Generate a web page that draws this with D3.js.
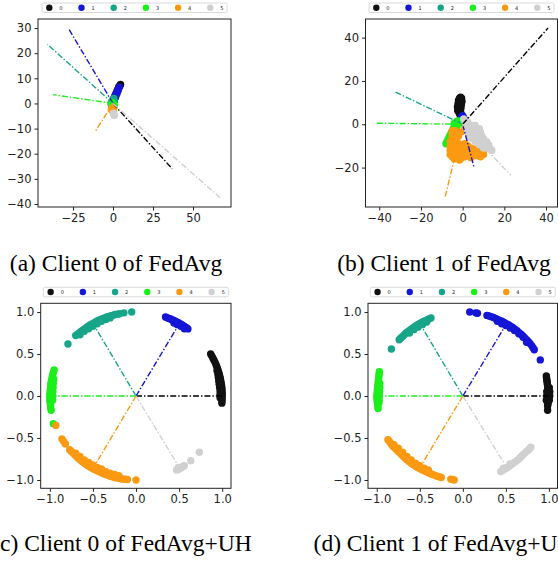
<!DOCTYPE html>
<html>
<head>
<meta charset="utf-8">
<script src="https://cdn.jsdelivr.net/npm/d3@7"></script>
<style>
  body { margin: 0; background: #fff; }
  svg { display: block; }
</style>
</head>
<body>
<svg id="chart" width="558" height="561"></svg>
<script>
// class labels and colours
const classes = ["0", "1", "2", "3", "4", "5"];
const colors = ["#111111", "#1515d6", "#17a589", "#1aef1a", "#fb9a12", "#d0d0d0"];

// ---- (a) Client 0 of FedAvg ----
const aTicksX = [-25, 0, 25, 50];
const aTicksY = [-40, -30, -20, -10, 0, 10, 20, 30];
const aCenters = [[37, -26], [-28, 30], [-41, 23.5], [-37.5, 3.5], [-11.5, -11.5], [67, -37.5]];
const aPoints = [
  [[0.5, 1], [1.5, 2.5], [2, 3.5], [2.5, 4.5], [3, 5.3], [3.5, 6], [4, 6.6], [4.5, 7.2], [4.7, 7.6], [3.8, 6.9]],
  [[-1, -0.5], [-0.5, 0.5], [0, 1.2], [0.5, 2], [1, 2.8], [1.5, 3.5], [2, 4.2], [2.5, 5], [3, 5.7], [3.5, 6.3], [3.9, 6.5], [0.5, 1], [1.5, 2.5], [2.5, 4], [3.2, 5.2]],
  [[0, 0.5], [0.3, 1.2], [0.5, 2], [0, 1.6], [-0.3, 0.8], [0.8, 1]],
  [[-1, -0.5], [-0.5, -1.5], [0, -2.3], [0.5, -1.5], [0.8, -0.5], [-1.3, 0.3], [0, -0.5], [-0.6, 0.4]],
  [[-0.5, -1.8], [0.3, -2.8], [-1, -2.5]],
  [[0.5, -4.3], [0.8, -4.8], [0.2, -3.9]]
];

// ---- (b) Client 1 of FedAvg ----
const bTicksX = [-40, -20, 0, 20, 40];
const bTicksY = [-20, 0, 20, 40];
const bCenters = [[41, 44.5], [5.5, -20], [-32.5, 15], [-42, 0.5], [-8.5, -34], [23, -23.5]];
const bPoints = [
  [[-1, 12.5], [-0.5, 12], [-1.5, 12], [-1, 11], [-2, 11], [-0.3, 10.5], [-1.2, 10], [-2.2, 9.5], [-0.6, 9], [-1.6, 8.5], [-2.5, 8], [-0.8, 7.5],
   [-1.8, 7], [-2.4, 6.3], [-1, 6], [-1.6, 5], [-0.6, 4.5], [-1, 3.5], [-0.2, 3], [0.2, 2]],
  [[0, 4], [0.5, 3], [1, 2], [0, 2.5], [-0.5, 3.5], [1, 0.5], [1.5, -1], [2, -3]],
  [[-2, 1.5], [-1.5, 0.5], [-2.5, 0.5], [-1, 1]],
  [[-3, 1], [-3.5, 0], [-4, -1], [-4.5, -2], [-5, -3], [-5.5, -4], [-6, -5], [-6.5, -6], [-7, -7], [-7.5, -8], [-8, -9], [-2.5, -0.5], [-4, 0.5],
   [-2.5, 1.5], [-3, -2], [-6, -7.5], [-7, -9]],
  [[-5, -3], [-5, -4.5], [-5, -6], [-5, -7.5], [-5, -9], [-5, -10.5], [-5, -12], [-5, -13.5], [-5, -15],
   [-3.5, -3], [-3.5, -4.5], [-3.5, -6], [-3.5, -7.5], [-3.5, -9], [-3.5, -10.5], [-3.5, -12], [-3.5, -13.5], [-3.5, -15],
   [-6, -8], [-6, -10], [-6, -12], [-6, -14],
   [-2, -4], [-2, -5.5], [-2, -9], [-2, -10.5], [-2, -12], [-2, -13.5], [-2, -15],
   [-0.5, -3.5], [-0.5, -9.5], [-0.5, -11], [-0.5, -12.5], [-0.5, -14], [-0.5, -15.5],
   [1, -9], [1, -10.5], [1, -12], [1, -13.5], [1, -15], [2.5, -10], [2.5, -11.5], [2.5, -13], [2.5, -14.5],
   [4, -11], [4, -12.5], [4, -14], [4, -15.5], [5.5, -11.5], [5.5, -13], [5.5, -14.5], [7, -11.5], [7, -13], [7, -14.5],
   [8.5, -12], [8.5, -13.5], [8.5, -15], [10, -12.5], [10, -14], [-4, -16], [-1.5, -16.5]],
  [[0.5, 2.5], [1, 1], [2.5, 1], [1.5, -0.5], [3, -0.5], [4.5, -0.5], [6, -0.5], [2, -2], [3.5, -2], [5, -2], [6.5, -2], [8, -2],
   [2.5, -3.5], [4, -3.5], [5.5, -3.5], [7, -3.5], [8.5, -3.5], [3, -5], [4.5, -5], [6, -5], [7.5, -5], [9, -5],
   [4, -6.5], [5.5, -6.5], [7, -6.5], [8.5, -6.5], [10, -6.5], [6, -8], [7.5, -8], [9, -8], [10.5, -8], [11.5, -8],
   [8, -9.5], [9.5, -9.5], [11, -9.5], [12.5, -9.5], [10, -11], [11.5, -11], [13, -11], [14, -12]]
];

// ---- (c) Client 0 of FedAvg+UH ----
const unitTicks = [-1.0, -0.5, 0.0, 0.5, 1.0];
const cCenters = [[1.0, 0], [0.49, 0.84], [-0.48, 0.83], [-1.0, 0], [-0.48, -0.83], [0.49, -0.83]];
const cPoints = [
  [[0.866, 0.5], [0.878, 0.478], [0.891, 0.454], [0.903, 0.43], [0.914, 0.407], [0.924, 0.383], [0.934, 0.358], [0.943, 0.334], [0.951, 0.309],
   [0.959, 0.284], [0.966, 0.259], [0.972, 0.233], [0.978, 0.208], [0.983, 0.182], [0.988, 0.156], [0.992, 0.13], [0.995, 0.105], [0.997, 0.078],
   [0.999, 0.052], [1.0, 0.026], [1.0, 0.0], [0.999, -0.03], [0.998, -0.06], [0.996, -0.085],
   [0.94, 0.3], [0.95, 0.26], [0.955, 0.22], [0.96, 0.18], [0.965, 0.14], [0.97, 0.1], [0.975, 0.06], [0.975, 0.02], [0.975, -0.02]],
  [[0.342, 0.94], [0.358, 0.934], [0.375, 0.927], [0.391, 0.92], [0.407, 0.914], [0.423, 0.906], [0.438, 0.899], [0.454, 0.891], [0.469, 0.883],
   [0.485, 0.875], [0.5, 0.866], [0.515, 0.857], [0.53, 0.848], [0.545, 0.839], [0.559, 0.829], [0.574, 0.819], [0.588, 0.809], [0.602, 0.799],
   [0.44, 0.87], [0.48, 0.85], [0.52, 0.83], [0.56, 0.8]],
  [[-0.05, 1.0], [-0.14, 0.99], [-0.19, 0.98], [-0.215, 0.975], [-0.24, 0.97], [-0.265, 0.963], [-0.29, 0.955], [-0.315, 0.948], [-0.34, 0.94],
   [-0.365, 0.93], [-0.39, 0.92], [-0.415, 0.91], [-0.44, 0.9], [-0.46, 0.888], [-0.48, 0.875], [-0.505, 0.862], [-0.53, 0.85], [-0.55, 0.835],
   [-0.57, 0.82], [-0.59, 0.805], [-0.61, 0.79], [-0.63, 0.775], [-0.65, 0.76], [-0.675, 0.74], [-0.7, 0.72], [-0.79, 0.62],
   [-0.3, 0.93], [-0.35, 0.91], [-0.4, 0.89], [-0.45, 0.86], [-0.5, 0.83], [-0.55, 0.8], [-0.6, 0.77], [-0.65, 0.73]],
  [[-0.95, 0.31], [-0.958, 0.285], [-0.965, 0.26], [-0.97, 0.235], [-0.975, 0.21], [-0.98, 0.185], [-0.985, 0.16], [-0.988, 0.135], [-0.99, 0.11],
   [-0.993, 0.085], [-0.995, 0.06], [-0.998, 0.035], [-1.0, 0.01], [-1.0, -0.015], [-1.0, -0.04], [-0.998, -0.065], [-0.995, -0.09],
   [-0.992, -0.115], [-0.99, -0.14], [-0.985, -0.17], [-0.96, -0.33],
   [-0.955, 0.2], [-0.96, 0.15], [-0.962, 0.1], [-0.965, 0.05], [-0.965, 0.0], [-0.968, -0.05]],
  [[-0.93, -0.35], [-0.86, -0.51], [-0.84, -0.54], [-0.82, -0.57], [-0.77, -0.64], [-0.75, -0.66], [-0.73, -0.68], [-0.71, -0.7], [-0.69, -0.72],
   [-0.67, -0.74], [-0.65, -0.76], [-0.625, -0.78], [-0.6, -0.8], [-0.575, -0.818], [-0.55, -0.835], [-0.525, -0.85], [-0.5, -0.865],
   [-0.475, -0.878], [-0.45, -0.89], [-0.425, -0.903], [-0.4, -0.915], [-0.375, -0.925], [-0.35, -0.935], [-0.325, -0.945], [-0.3, -0.955],
   [-0.275, -0.962], [-0.25, -0.97], [-0.225, -0.975], [-0.2, -0.98], [-0.175, -0.985], [-0.15, -0.99], [-0.125, -0.992], [-0.1, -0.995], [0.0, -1.0],
   [-0.7, -0.68], [-0.65, -0.72], [-0.6, -0.76], [-0.55, -0.79], [-0.5, -0.82], [-0.45, -0.85], [-0.4, -0.87], [-0.35, -0.9], [-0.3, -0.92],
   [-0.25, -0.935], [-0.2, -0.95]],
  [[0.47, -0.88], [0.485, -0.875], [0.5, -0.87], [0.515, -0.86], [0.53, -0.85], [0.545, -0.84], [0.56, -0.83], [0.49, -0.85], [0.635, -0.77], [0.735, -0.67]]
];

// ---- (d) Client 1 of FedAvg+UH ----
const dCenters = [[1.0, 0], [0.49, 0.83], [-0.48, 0.83], [-1.0, 0], [-0.48, -0.82], [0.49, -0.82]];
const dPoints = [
  [[0.97, 0.24], [0.972, 0.22], [0.975, 0.2], [0.978, 0.18], [0.98, 0.16], [0.983, 0.14], [0.985, 0.12], [0.988, 0.1], [0.99, 0.08], [0.993, 0.06],
   [0.995, 0.04], [0.995, 0.02], [0.995, 0.0], [0.995, -0.02], [0.995, -0.04], [0.993, -0.06], [0.99, -0.08], [0.988, -0.1], [0.985, -0.12],
   [0.985, -0.17], [1.005, 0.1], [1.01, 0.05], [1.01, 0.0], [1.005, -0.05], [0.975, 0.05], [0.975, 0.0], [0.97, -0.05]],
  [[0.08, 1.0], [0.15, 0.99], [0.17, 0.985], [0.28, 0.96], [0.305, 0.952], [0.33, 0.945], [0.355, 0.935], [0.38, 0.925], [0.405, 0.912], [0.43, 0.9],
   [0.455, 0.89], [0.48, 0.877], [0.505, 0.862], [0.53, 0.848], [0.555, 0.832], [0.58, 0.815], [0.605, 0.796], [0.63, 0.777], [0.655, 0.755],
   [0.68, 0.733], [0.7, 0.712], [0.72, 0.69], [0.74, 0.67], [0.76, 0.65], [0.78, 0.625], [0.8, 0.6], [0.815, 0.575], [0.83, 0.55], [0.9, 0.43],
   [0.4, 0.89], [0.45, 0.86], [0.5, 0.84], [0.55, 0.81], [0.6, 0.78], [0.65, 0.74], [0.7, 0.7], [0.74, 0.64]],
  [[-0.37, 0.93], [-0.39, 0.92], [-0.41, 0.91], [-0.43, 0.9], [-0.45, 0.89], [-0.475, 0.878], [-0.5, 0.865], [-0.52, 0.852], [-0.54, 0.84],
   [-0.56, 0.825], [-0.58, 0.81], [-0.6, 0.795], [-0.62, 0.78], [-0.64, 0.765], [-0.66, 0.75], [-0.68, 0.73], [-0.7, 0.71], [-0.72, 0.69],
   [-0.74, 0.67], [-0.83, 0.56], [-0.42, 0.88], [-0.47, 0.85], [-0.52, 0.82], [-0.57, 0.79], [-0.62, 0.75]],
  [[-0.97, 0.29], [-0.972, 0.265], [-0.975, 0.24], [-0.978, 0.215], [-0.98, 0.19], [-0.983, 0.165], [-0.985, 0.14], [-0.988, 0.115], [-0.99, 0.09],
   [-0.993, 0.065], [-0.995, 0.04], [-0.998, 0.015], [-1.0, -0.01], [-0.998, -0.035], [-0.995, -0.06], [-0.992, -0.08], [-0.99, -0.1],
   [-0.988, -0.125], [-0.985, -0.15], [-0.965, 0.15], [-0.965, 0.1], [-0.968, 0.05], [-0.97, 0.0], [-0.972, -0.05], [-0.975, -0.08]],
  [[-0.87, -0.52], [-0.855, -0.54], [-0.84, -0.56], [-0.825, -0.58], [-0.81, -0.6], [-0.79, -0.62], [-0.77, -0.64], [-0.75, -0.66], [-0.73, -0.68],
   [-0.71, -0.7], [-0.69, -0.72], [-0.67, -0.74], [-0.65, -0.76], [-0.625, -0.78], [-0.6, -0.8], [-0.575, -0.818], [-0.55, -0.835], [-0.525, -0.85],
   [-0.5, -0.865], [-0.475, -0.878], [-0.45, -0.89], [-0.425, -0.903], [-0.4, -0.915], [-0.375, -0.925], [-0.35, -0.935], [-0.325, -0.945],
   [-0.3, -0.955], [-0.275, -0.962], [-0.25, -0.97], [-0.14, -0.99], [-0.12, -0.995], [-0.1, -1.0],
   [-0.8, -0.58], [-0.75, -0.62], [-0.7, -0.67], [-0.65, -0.72], [-0.6, -0.76], [-0.55, -0.8], [-0.5, -0.83], [-0.45, -0.86], [-0.4, -0.88]],
  [[0.44, -0.9], [0.46, -0.888], [0.48, -0.875], [0.5, -0.862], [0.52, -0.85], [0.54, -0.835], [0.56, -0.82], [0.58, -0.805], [0.6, -0.79],
   [0.62, -0.775], [0.64, -0.76], [0.66, -0.74], [0.68, -0.72], [0.7, -0.7], [0.72, -0.68], [0.74, -0.66], [0.76, -0.645], [0.775, -0.628],
   [0.79, -0.61], [0.47, -0.86], [0.55, -0.81]]
];

const captions = ["(a) Client 0 of FedAvg", "(b) Client 1 of FedAvg", "(c) Client 0 of FedAvg+UH", "(d) Client 1 of FedAvg+UH"];

// frame boxes and axis ranges of the four panels
const panels = [
  { box: [38, 231, 19, 207], xd: [-46.9, 73.75], yd: [-41.2, 33.6], tx: aTicksX, ty: aTicksY, fmt: d3.format("d"), centers: aCenters, points: aPoints, cap: [116, 271] },
  { box: [365.5, 557.5, 19, 207], xd: [-46.6, 45.5], yd: [-38.2, 48.6], tx: bTicksX, ty: bTicksY, fmt: d3.format("d"), centers: bCenters, points: bPoints, cap: [444, 271] },
  { box: [40.7, 231, 303.3, 488.3], xd: [-1.106, 1.102], yd: [-1.099, 1.104], tx: unitTicks, ty: unitTicks, fmt: d3.format(".1f"), centers: cCenters, points: cPoints, cap: [122, 551] },
  { box: [368, 557.5, 303.3, 488.3], xd: [-1.102, 1.1], yd: [-1.099, 1.104], tx: unitTicks, ty: unitTicks, fmt: d3.format(".1f"), centers: dCenters, points: dPoints, cap: [444, 551] }
];

const svg = d3.select("#chart");
svg.append("rect").attr("width", 558).attr("height", 561).attr("fill", "#fff");

panels.forEach((p, k) => {
  const [l, r, t, b] = p.box;
  const x = d3.scaleLinear().domain(p.xd).range([l, r]);
  const y = d3.scaleLinear().domain(p.yd).range([b, t]);
  const g = svg.append("g");

  g.append("clipPath").attr("id", "clip" + k)
    .append("rect").attr("x", l).attr("y", t).attr("width", r - l).attr("height", b - t);
  const plot = g.append("g").attr("clip-path", `url(#clip${k})`);

  // scatter, class by class
  p.points.forEach((pts, i) => {
    plot.append("g").selectAll("circle")
      .data(pts)
      .join("circle")
      .attr("cx", d => x(d[0]))
      .attr("cy", d => y(d[1]))
      .attr("r", 3.7)
      .attr("fill", colors[i]);
  });

  // dash-dot lines from origin to each class centre
  plot.append("g").selectAll("line")
    .data(p.centers)
    .join("line")
    .attr("x1", x(0)).attr("y1", y(0))
    .attr("x2", d => x(d[0])).attr("y2", d => y(d[1]))
    .attr("stroke", (d, i) => i === 0 ? "#000" : colors[i])
    .attr("stroke-width", 1.4)
    .attr("stroke-dasharray", "6,2,1.4,2");

  const fmt = v => p.fmt(v).replace("-", "\u2212");

  const xAxis = g.append("g")
    .attr("transform", `translate(0,${b})`)
    .call(d3.axisBottom(x).tickValues(p.tx).tickSize(3.5).tickPadding(3).tickFormat(fmt));
  const yAxis = g.append("g")
    .attr("transform", `translate(${l},0)`)
    .call(d3.axisLeft(y).tickValues(p.ty).tickSize(3.5).tickPadding(3).tickFormat(fmt));
  [xAxis, yAxis].forEach(a => {
    a.select(".domain").remove();
    a.selectAll("line").attr("stroke", "#222");
    a.selectAll("text").attr("fill", "#222")
      .style("font-family", "DejaVu Sans").style("font-size", "11.5px");
  });

  g.append("rect")
    .attr("x", l).attr("y", t).attr("width", r - l).attr("height", b - t)
    .attr("fill", "none").attr("stroke", "#222").attr("stroke-width", 1);

  // legend centred above the frame
  const cx = (l + r) / 2;
  const lw = 185, lx = cx - lw / 2, ly = t - 16;
  const leg = g.append("g");
  leg.append("rect")
    .attr("x", lx).attr("y", ly).attr("width", lw).attr("height", 9.5).attr("rx", 1.5)
    .attr("fill", "#fff").attr("stroke", "#d0d0d0").attr("stroke-width", 0.8);
  classes.forEach((c, i) => {
    const ex = lx + 7.3 + i * 32.2;
    leg.append("circle").attr("cx", ex).attr("cy", ly + 4.75).attr("r", 3.2).attr("fill", colors[i]);
    leg.append("text").attr("x", ex + 10).attr("y", ly + 6.6)
      .attr("font-family", "DejaVu Sans").attr("font-size", 5).attr("fill", "#222").text(c);
  });

  svg.append("text")
    .attr("x", p.cap[0]).attr("y", p.cap[1])
    .attr("text-anchor", "middle")
    .attr("font-family", "Liberation Serif, Times New Roman, serif")
    .attr("font-size", 23.5).attr("fill", "#000")
    .text(captions[k]);
});
</script>
</body>
</html>
